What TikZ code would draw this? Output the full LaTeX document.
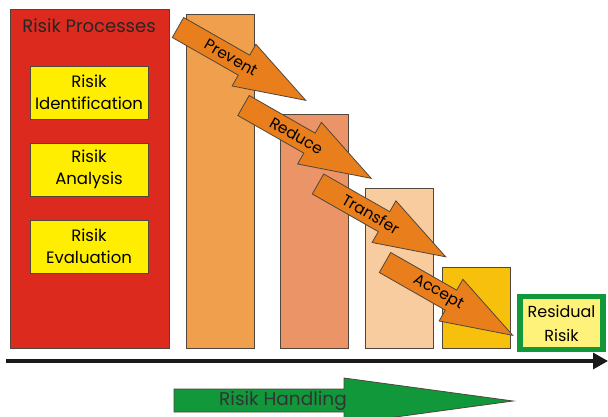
\documentclass[tikz,border=0pt]{standalone}
\usepackage{fontspec}
\setmainfont{Poppins}
\usetikzlibrary{arrows.meta}
\definecolor{cred}{RGB}{221,42,30}
\definecolor{cyel}{RGB}{255,238,0}
\definecolor{cbarA}{RGB}{240,160,76}
\definecolor{cbarB}{RGB}{234,148,104}
\definecolor{cbarC}{RGB}{248,204,158}
\definecolor{cbarD}{RGB}{246,192,12}
\definecolor{carrow}{RGB}{232,126,28}
\definecolor{cgreen}{RGB}{16,152,58}
\definecolor{cpale}{RGB}{255,242,122}
\definecolor{cline}{RGB}{80,70,60}
\tikzset{
  boxline/.style={draw=cline,line width=0.8pt},
  inbox/.style={boxline,fill=cyel,align=center,font=\fontsize{16.5}{22}\selectfont},
  bar/.style={boxline},
  harrow/.style={draw=cline,line width=0.8pt,fill=carrow},
  alabel/.style={font=\fontsize{15.5}{17}\selectfont,rotate=-29.7,inner sep=0pt},
}
\newcommand\riskarr[4]{%
  \begin{scope}[shift={(#1,#2)},rotate=-29.7]
    \draw[harrow] (0,-11.5) -- (76,-11.5) -- (76,-24) -- (147,0) -- (76,24) -- (76,11.5) -- (0,11.5) -- cycle;
    \node[alabel] (#3) at (61,0) {#4};
  \end{scope}}
\begin{document}
\begin{tikzpicture}[x=1pt,y=-1pt]
\useasboundingbox (0,0) rectangle (608,417);
\clip (0,0) rectangle (608,417);
\fill[white] (0,0) rectangle (608,417);
% red process box
\node[boxline,fill=cred,minimum width=159pt,minimum height=339pt,anchor=north west,inner sep=0pt] (proc) at (10,9) {};
\node[font=\fontsize{18}{20}\selectfont,text=black!85] (proct) at (89,26) {Risik Processes};
\node[inbox,minimum width=118pt,minimum height=53pt,inner sep=0pt] (ident) at (89,92.5) {Risik\\Identification};
\node[inbox,minimum width=118pt,minimum height=53pt,inner sep=0pt] (anal) at (89,169.5) {Risik\\Analysis};
\node[inbox,minimum width=118pt,minimum height=53pt,inner sep=0pt] (eval) at (89,246.5) {Risik\\Evaluation};
% bars
\draw[bar,fill=cbarA] (186,14) rectangle (254,348);
\draw[bar,fill=cbarB] (280,114) rectangle (348,348);
\draw[bar,fill=cbarC] (365,188) rectangle (433,348);
\draw[bar,fill=cbarD] (442,267) rectangle (510,348);
% arrows
\riskarr{178}{27.5}{prev}{Prevent}
\riskarr{243.5}{105.5}{red}{Reduce}
\riskarr{318}{184}{trans}{Transfer}
\riskarr{385}{262.5}{acc}{Accept}
% residual
\node[draw=cgreen,line width=5.5pt,fill=cpale,minimum width=83pt,minimum height=53pt,inner sep=0pt,align=center,font=\fontsize{16}{24}\selectfont] (resid) at (561.5,323) {Residual\\Risik};
% axis
\coordinate (axs) at (6,361);
\coordinate (axe) at (608,361);
\draw[line width=3.2pt,color=black!90,-{Triangle[length=15pt,width=16pt]}] (axs) -- (axe);
% green handling arrow
\draw[draw=cline,line width=0.8pt,fill=cgreen] (174,389) -- (344,389) -- (344,378) -- (513,401) -- (344,424) -- (344,412) -- (174,412) -- cycle;
\node[font=\fontsize{18.5}{20}\selectfont,text=black!80] (handl) at (283,400.5) {Risik Handling};
\end{tikzpicture}
\end{document}
